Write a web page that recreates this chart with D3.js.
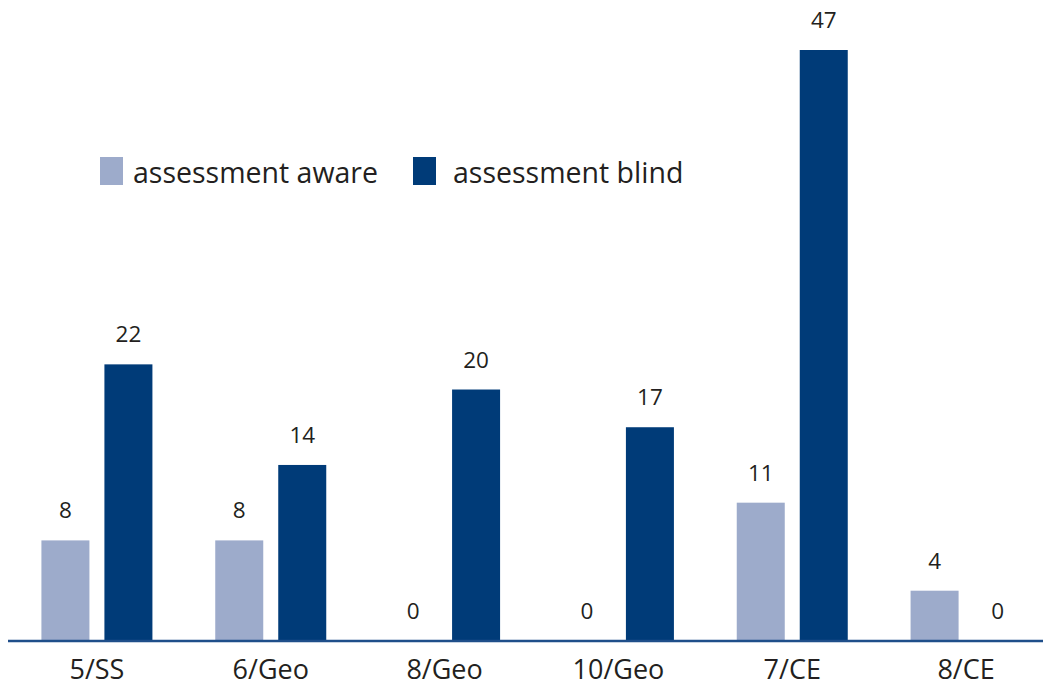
<!DOCTYPE html>
<html>
<head>
<meta charset="utf-8">
<script src="https://cdn.jsdelivr.net/npm/d3@7"></script>
<style>
  body { margin: 0; background: #fff; }
  svg { display: block; font-family: "Open Sans", sans-serif; }
</style>
</head>
<body>
<svg id="chart" width="1043" height="690"></svg>
<script>
const categories = ["5/SS", "6/Geo", "8/Geo", "10/Geo", "7/CE", "8/CE"];
const seriesNames = ["assessment aware", "assessment blind"];
const awareValues = [8, 8, 0, 0, 11, 4];
const blindValues = [22, 14, 20, 17, 47, 0];

const colors = ["#9dabcb", "#003b78"];

const width = 1043;
const height = 690;
const baseY = 641;

const svg = d3.select("#chart");

const rows = categories.map((c, i) => ({
  cat: c,
  vals: [
    { key: seriesNames[0], v: awareValues[i] },
    { key: seriesNames[1], v: blindValues[i] }
  ]
}));

const x = d3.scaleBand()
  .domain(categories)
  .range([10, 1053]);

const xInner = d3.scaleBand()
  .domain(seriesNames)
  .range([-55.5, 55.5])
  .paddingInner(0.238)
  .paddingOuter(0);

const y = d3.scaleLinear()
  .domain([0, 47])
  .range([baseY, 50]);

const color = d3.scaleOrdinal().domain(seriesNames).range(colors);

const groups = svg.append("g")
  .selectAll("g")
  .data(rows)
  .join("g")
  .attr("transform", d => `translate(${x(d.cat) + x.bandwidth() / 2},0)`);

groups.selectAll("rect")
  .data(d => d.vals)
  .join("rect")
  .attr("x", d => xInner(d.key))
  .attr("width", xInner.bandwidth())
  .attr("y", d => y(d.v))
  .attr("height", d => baseY - y(d.v))
  .attr("fill", d => color(d.key));

groups.selectAll("text.val")
  .data(d => d.vals)
  .join("text")
  .attr("class", "val")
  .attr("x", d => xInner(d.key) + xInner.bandwidth() / 2)
  .attr("y", d => y(d.v) - 22)
  .attr("text-anchor", "middle")
  .attr("font-size", 22.5)
  .attr("fill", "#231f20")
  .text(d => d.v);

// x axis
const xAxis = svg.append("g")
  .attr("transform", `translate(0,${baseY})`)
  .call(d3.axisBottom(x).tickSize(0).tickPadding(19));
xAxis.select(".domain")
  .attr("d", "M8,0H1043")
  .attr("stroke", "#1f4e8a")
  .attr("stroke-width", 2.5);
xAxis.selectAll("text")
  .attr("font-size", 27)
  .attr("fill", "#231f20")
  .attr("dy", "0.71em")
  .style("font-family", "'Open Sans', sans-serif");

// legend
const legendX = [100, 413];
const legend = svg.append("g")
  .selectAll("g")
  .data(seriesNames)
  .join("g")
  .attr("transform", (d, i) => `translate(${legendX[i]},157)`);
legend.append("rect")
  .attr("width", 23)
  .attr("height", 28)
  .attr("fill", d => color(d));
legend.append("text")
  .attr("x", d => d === seriesNames[0] ? 33 : 40)
  .attr("y", 26)
  .attr("font-size", 28.5)
  .attr("fill", "#231f20")
  .text(d => d);
</script>
</body>
</html>
